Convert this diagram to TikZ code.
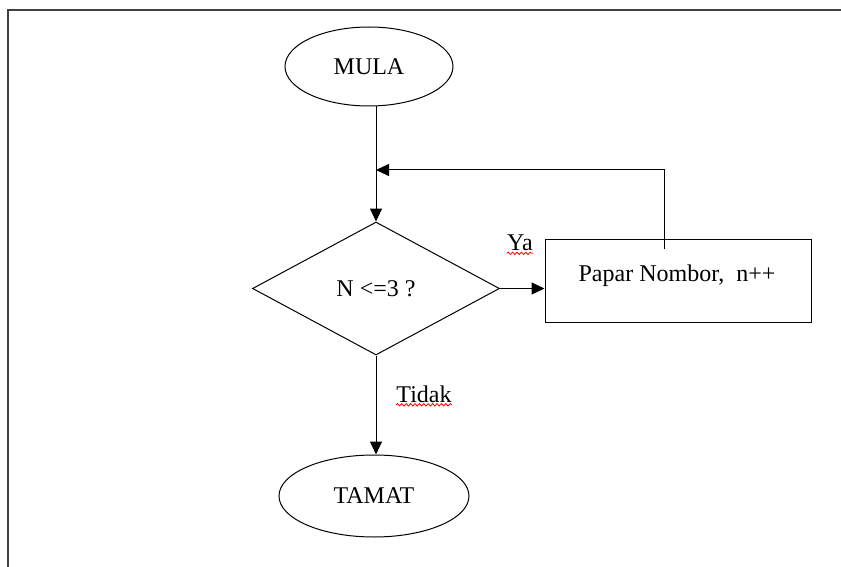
\documentclass[tikz,border=0pt]{standalone}
\usepackage{fontspec}
\setmainfont{Liberation Serif}
\usetikzlibrary{shapes.geometric,arrows.meta,decorations.pathmorphing}
\begin{document}
\begin{tikzpicture}[x=0.5pt,y=-0.5pt,font=\fontsize{12pt}{14pt}\selectfont,
        mulatamat/.style={draw,ellipse,line width=0.5pt,inner sep=0pt},
        semak/.style={draw,diamond,aspect=1.86,line width=0.5pt,inner sep=0pt,minimum width=123.5pt,minimum height=66.5pt},
        proses/.style={draw,rectangle,line width=0.5pt,inner sep=0pt,minimum width=133pt,minimum height=41.5pt},
        alir/.style={line width=0.5pt,-{Triangle[length=6.5pt,width=6pt]}},
        ejaan/.style={red,line width=0.4pt,decorate,decoration={snake,amplitude=0.6pt,segment length=2.2pt}}]
            \useasboundingbox (0,0) rectangle (841,567);
            \draw[line width=1pt,black!75] (8,567) -- (8,10) -- (841,10);
            \node[mulatamat,minimum width=84pt,minimum height=39.5pt] (mula) at (369,66.5) {MULA};
            \node[semak] (cek) at (376,288.5) {N <=3 ?};
            \node[proses] (papar) at (678,280.5) {};
            \node (paparteks) at (677,276) {Papar Nombor,\ \ n++};
            \node[mulatamat,minimum width=95pt,minimum height=41pt] (tamat) at (374,496) {TAMAT};
            \node[inner sep=0pt] (ya) at (520,243) {Ya};
            \node[inner sep=0pt] (tidak) at (424,394) {Tidak};
            \coordinate (balik) at (376,170);
            \coordinate (naik) at (664,249);
            \draw[alir] (cek.north |- mula.south) -- (cek.north);
            \draw[alir] (cek.east) -- (cek.east -| papar.west);
            \draw[alir] (naik) |- (balik);
            \draw[alir] (cek.south) -- (cek.south |- tamat.north);
            \draw[ejaan] ([yshift=-1.3pt]ya.base west) -- ([yshift=-1.3pt]ya.base east);
            \draw[ejaan] ([yshift=-1.3pt]tidak.base west) -- ([yshift=-1.3pt]tidak.base east);
        \end{tikzpicture}
\end{document}
